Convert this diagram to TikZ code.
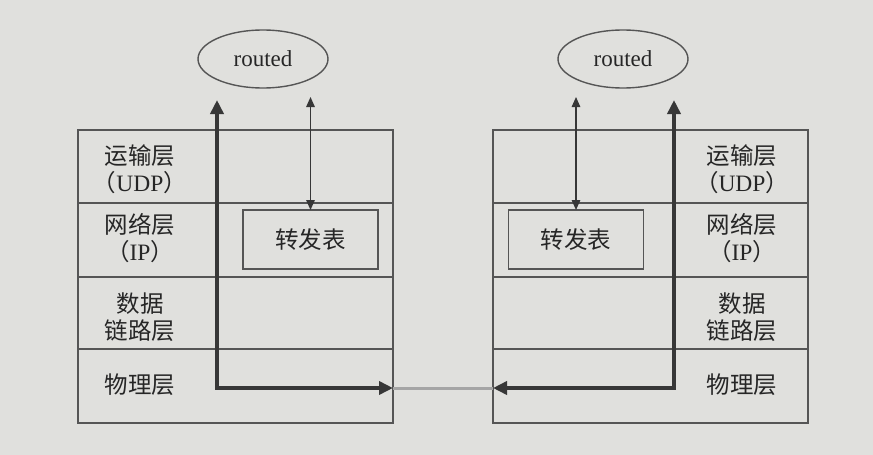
\documentclass[tikz,border=0pt]{standalone}
\usepackage{fontspec}
\setmainfont{Liberation Serif}
\newfontfamily\cjk{Noto Sans CJK SC}
\usetikzlibrary{arrows.meta,shapes.geometric}
\definecolor{bg}{RGB}{224,224,221}
\definecolor{ln}{RGB}{85,85,85}
\definecolor{thick}{RGB}{55,55,55}
\definecolor{link}{RGB}{165,165,165}
\tikzset{
  layer/.style={draw=ln,line width=1.4pt,fill=bg,minimum width=315pt,inner sep=0pt,outer sep=0pt},
  ftbox/.style={draw=ln,line width=1.4pt,fill=bg,minimum width=135pt,minimum height=59pt,inner sep=0pt,outer sep=0pt,text=black!85,font=\cjk\fontsize{23.5}{27}\selectfont},
  lbl/.style={align=center,font=\cjk\fontsize{23.5}{27}\selectfont,text=black!85,inner sep=0pt},
  proc/.style={ellipse,draw=ln,line width=1.4pt,minimum width=130pt,minimum height=58pt,inner sep=0pt,font=\fontsize{23}{26}\selectfont,text=black!85},
  flow/.style={draw=thick,line width=4.5pt,{Triangle[length=14pt,width=13pt]}-{Triangle[length=14pt,width=13pt]}},
  ctl/.style={draw=thick,line width=1.4pt,{Triangle[length=10pt,width=8.5pt]}-{Triangle[length=10pt,width=8.5pt]}},
  wire/.style={draw=link,line width=3pt}
}
\newcommand{\udp}{{\cjk （}{\rmfamily UDP}{\cjk ）}}
\newcommand{\ipx}{{\cjk （}{\rmfamily IP}{\cjk ）}}
\begin{document}
\begin{tikzpicture}[x=1pt,y=-1pt]
\fill[bg] (0,0) rectangle (873,455);
\useasboundingbox (0,0) rectangle (873,455);
% left stack
\node[layer,minimum height=73pt] (LT) at (235.5,166.5) {};
\node[layer,minimum height=74pt] (LN) at (235.5,240) {};
\node[layer,minimum height=72pt] (LD) at (235.5,313) {};
\node[layer,minimum height=74pt] (LP) at (235.5,386) {};
\node[ftbox] (LF) at (310.5,239.5) {转发表};
\node[lbl] (LTt) at (140,169) {运输层\\\udp};
\node[lbl] (LNt) at (140,238.5) {网络层\\\ipx};
\node[lbl] (LDt) at (140,317) {数据\\链路层};
\node[lbl] (LPt) at (140,385) {物理层};
\node[proc] (LR) at (263,59) {routed};
% right stack
\node[layer,minimum height=73pt] (RT) at (650.5,166.5) {};
\node[layer,minimum height=74pt] (RN) at (650.5,240) {};
\node[layer,minimum height=72pt] (RD) at (650.5,313) {};
\node[layer,minimum height=74pt] (RP) at (650.5,386) {};
\node[ftbox] (RF) at (576,239.5) {转发表};
\node[lbl] (RTt) at (742,169) {运输层\\\udp};
\node[lbl] (RNt) at (742,238.5) {网络层\\\ipx};
\node[lbl] (RDt) at (742,317) {数据\\链路层};
\node[lbl] (RPt) at (742,385) {物理层};
\node[proc] (RR) at (623,59) {routed};
% coordinates
\coordinate (LA) at (217,100);
\coordinate (LB) at (LP.east |- 0,388);
\coordinate (RA) at (674,100);
\coordinate (RB) at (RP.west |- 0,388);
\coordinate (LC) at (LF.north |- 0,97);
\coordinate (RC) at (RF.north |- 0,97);
% link between machines
\draw[wire] (LB) -- (RB);
% packet flow
\draw[flow] (LA) |- (LB);
\draw[flow] (RA) |- (RB);
% control to forwarding tables
\draw[ctl] (LC) -- (LF.north);
\draw[ctl] (RC) -- (RF.north);
\end{tikzpicture}
\end{document}
